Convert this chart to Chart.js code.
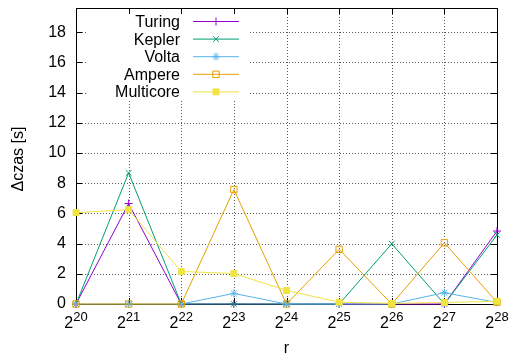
<!DOCTYPE html>
<html>
<head>
<meta charset="utf-8">
<script src="https://cdn.jsdelivr.net/npm/chart.js@4.4.0/dist/chart.umd.min.js"></script>
<style>
  html, body { margin: 0; padding: 0; background: #fff; }
  canvas { display: block; }
</style>
</head>
<body>
<canvas id="chart" width="511" height="359"></canvas>
<script>
// x categories are powers of two: 2^20 .. 2^28
const exponents = [20, 21, 22, 23, 24, 25, 26, 27, 28];
const seriesNames = ["Turing", "Kepler", "Volta", "Ampere", "Multicore"];
const turing    = [0, 6.65, 0, 0, 0, 0, 0, 0, 4.83];
const kepler    = [0, 8.68, 0, 0, 0, 0, 3.99, 0, 4.57];
const volta     = [0, 0, 0, 0.7, 0, 0, 0, 0.75, 0.1];
const ampere    = [0, 0, 0, 7.58, 0, 3.62, 0, 4.05, 0.12];
const multicore = [6.05, 6.25, 2.15, 2.02, 0.9, 0.12, 0.04, 0.1, 0.18];

const FONT = '"Liberation Sans", Arial, sans-serif';

const styles = [
  { color: "#9400d3", pointStyle: "cross", fill: "#9400d3", radius: 4 },
  { color: "#009e73", pointStyle: "crossRot", fill: "#009e73", radius: 4 },
  { color: "#56b4e9", pointStyle: "star", fill: "#56b4e9", radius: 4 },
  { color: "#e69f00", pointStyle: "rect", fill: "rgba(0,0,0,0)", radius: 4.5 },
  { color: "#f0e442", pointStyle: "rect", fill: "#f0e442", radius: 4.2 }
];
const values = [turing, kepler, volta, ampere, multicore];

const datasets = seriesNames.map((name, i) => ({
  label: name,
  data: values[i],
  borderColor: styles[i].color,
  backgroundColor: styles[i].fill,
  pointBackgroundColor: styles[i].fill,
  pointBorderColor: styles[i].color,
  pointStyle: styles[i].pointStyle,
  pointRadius: styles[i].radius,
  pointBorderWidth: 1,
  borderWidth: 1,
  tension: 0,
  clip: false,
  order: seriesNames.length - i // gnuplot draws the last series on top
}));

// gnuplot-like grid, frame, ticks, superscript labels and key
const gnuFrame = {
  id: "gnuFrame",
  beforeDatasetsDraw(chart) {
    const { ctx, chartArea: a, scales: { x, y } } = chart;
    ctx.save();
    // dotted grid
    ctx.strokeStyle = "rgba(0,0,0,0.65)";
    ctx.lineWidth = 1;
    ctx.setLineDash([1, 2]);
    ctx.beginPath();
    y.ticks.forEach(t => {
      const py = Math.round(y.getPixelForValue(t.value)) + 0.5;
      ctx.moveTo(a.left, py); ctx.lineTo(a.right, py);
    });
    x.ticks.forEach((t, i) => {
      const px = Math.round(x.getPixelForTick(i)) + 0.5;
      ctx.moveTo(px, a.top); ctx.lineTo(px, a.bottom);
    });
    ctx.stroke();
    ctx.setLineDash([]);

    // key is opaque, hides the grid behind it
    ctx.fillStyle = "#fff";
    ctx.fillRect(86, a.top + 1, 164, 90);

    ctx.strokeStyle = "#000";
    ctx.beginPath();
    y.ticks.forEach(t => {
      const py = Math.round(y.getPixelForValue(t.value)) + 0.5;
      ctx.moveTo(a.left, py); ctx.lineTo(a.left + 6, py);
      ctx.moveTo(a.right, py); ctx.lineTo(a.right - 6, py);
    });
    x.ticks.forEach((t, i) => {
      const px = Math.round(x.getPixelForTick(i)) + 0.5;
      ctx.moveTo(px, a.bottom); ctx.lineTo(px, a.bottom - 6);
      ctx.moveTo(px, a.top); ctx.lineTo(px, a.top + 6);
    });
    ctx.stroke();
    ctx.strokeRect(a.left + 0.5, a.top + 0.5, a.right - a.left, a.bottom - a.top);
    ctx.restore();
  },
  afterDraw(chart) {
    const { ctx, chartArea: a, scales: { x } } = chart;
    ctx.save();
    ctx.fillStyle = "#000";
    ctx.textBaseline = "alphabetic";

    // x tick labels 2^n
    exponents.forEach((e, i) => {
      const px = x.getPixelForTick(i);
      ctx.font = "16px " + FONT;
      const w1 = ctx.measureText("2").width;
      ctx.font = "13px " + FONT;
      const w2 = ctx.measureText(String(e)).width;
      const x0 = px - (w1 + w2) / 2;
      ctx.font = "16px " + FONT;
      ctx.textAlign = "left";
      ctx.fillText("2", x0, a.bottom + 24);
      ctx.font = "13px " + FONT;
      ctx.fillText(String(e), x0 + w1, a.bottom + 17);
    });

    // axis titles
    ctx.font = "16px " + FONT;
    ctx.textAlign = "center";
    ctx.fillText("r", (a.left + a.right) / 2, a.bottom + 49);
    ctx.save();
    ctx.translate(19, 159);
    ctx.rotate(-Math.PI / 2);
    ctx.textBaseline = "middle";
    ctx.fillText("\u0394czas [s]", 0, 0);
    ctx.restore();

    // key
    chart.data.datasets.forEach((ds, i) => {
      const ry = 21.5 + i * 17.6;
      ctx.font = "16px " + FONT;
      ctx.textAlign = "right";
      ctx.textBaseline = "middle";
      ctx.fillStyle = "#000";
      ctx.fillText(ds.label, 180, ry + 1);
      ctx.strokeStyle = ds.borderColor;
      ctx.lineWidth = 1;
      ctx.beginPath();
      ctx.moveTo(193, ry); ctx.lineTo(239, ry);
      ctx.stroke();
      ctx.fillStyle = ds.pointBackgroundColor;
      Chart.helpers.drawPoint(ctx, {
        pointStyle: ds.pointStyle, radius: ds.pointRadius, rotation: 0, borderWidth: 1
      }, 216, ry);
    });
    ctx.restore();
  }
};

new Chart(document.getElementById("chart"), {
  type: "line",
  data: {
    labels: exponents.map(e => "2^" + e),
    datasets: datasets
  },
  options: {
    responsive: false,
    animation: false,
    layout: { padding: { top: 8, right: 14, left: 0, bottom: 0 } },
    plugins: {
      legend: { display: false },
      tooltip: { enabled: false }
    },
    scales: {
      x: {
        type: "category",
        offset: false,
        grid: { display: false, offset: false },
        border: { display: false },
        ticks: { display: false },
        afterFit(scale) {
          scale.height = 55;
          scale.paddingLeft = 0;
          scale.paddingRight = 0;
        }
      },
      y: {
        min: 0,
        max: 19.6,
        grid: { display: false, drawTicks: false },
        border: { display: false },
        ticks: {
          stepSize: 2,
          includeBounds: false,
          padding: 10,
          color: "#000",
          font: { family: FONT, size: 16 }
        },
        afterFit(scale) {
          scale.width = 76;
          scale.paddingTop = 0;
          scale.paddingBottom = 0;
        }
      }
    }
  },
  plugins: [gnuFrame]
});
</script>
</body>
</html>
